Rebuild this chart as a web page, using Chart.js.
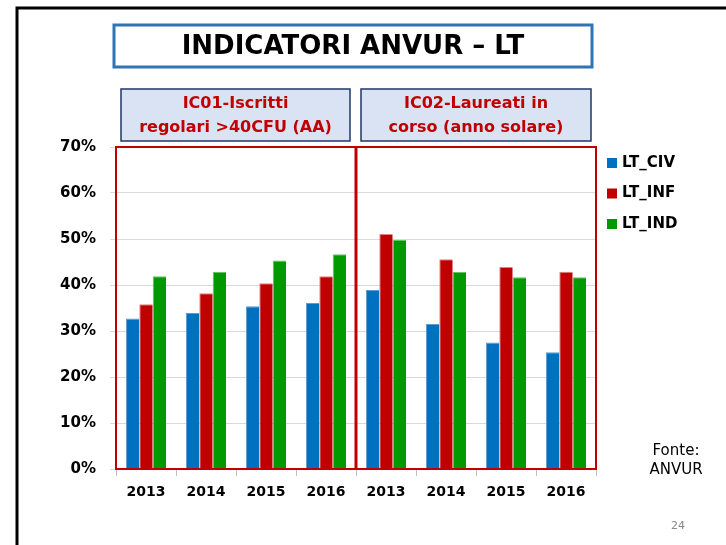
<!DOCTYPE html>
<html>
<head>
<meta charset="utf-8">
<script src="https://cdn.jsdelivr.net/npm/chart.js@4"></script>
<style>
  html, body { margin: 0; padding: 0; background: #fff; }
  #wrap { width: 726px; height: 545px; position: relative; }
</style>
</head>
<body>
<div id="wrap"><canvas id="anvur-chart" width="726" height="545"></canvas></div>
<script>
const years = ['2013', '2014', '2015', '2016', '2013', '2014', '2015', '2016'];
const seriesNames = ['LT_CIV', 'LT_INF', 'LT_IND'];
const ltCiv = [0.327, 0.339, 0.354, 0.361, 0.389, 0.315, 0.275, 0.254];
const ltInf = [0.358, 0.382, 0.404, 0.419, 0.511, 0.456, 0.439, 0.429];
const ltInd = [0.419, 0.428, 0.453, 0.467, 0.498, 0.428, 0.417, 0.417];
const yTicks = [0, 0.1, 0.2, 0.3, 0.4, 0.5, 0.6, 0.7];
const title = 'INDICATORI ANVUR – LT';
const panelTitles = [['IC01-Iscritti', 'regolari >40CFU (AA)'], ['IC02-Laureati in', 'corso (anno solare)']];
const colors = ['#0070c0', '#c00000', '#009900'];
const edgeColors = ['#5b9bd5', '#e08080', '#66c266'];

const font = '"DejaVu Sans", sans-serif';

const slidePlugin = {
    id: 'slide',
    beforeDraw(chart) {
        const c = chart.ctx;
        c.save();
        c.fillStyle = '#fff';
        c.fillRect(0, 0, chart.width, chart.height);
        // slide frame
        c.strokeStyle = '#000';
        c.lineWidth = 3;
        c.beginPath();
        c.moveTo(17, 560);
        c.lineTo(17, 8);
        c.lineTo(740, 8);
        c.stroke();

        // title box
        c.strokeStyle = '#2e75b6';
        c.lineWidth = 3;
        c.fillStyle = '#fff';
        c.fillRect(114, 25, 478, 42);
        c.strokeRect(114, 25, 478, 42);
        c.fillStyle = '#000';
        c.font = 'bold 26px ' + font;
        c.textAlign = 'center';
        c.textBaseline = 'middle';
        c.fillText(title, 353, 47);

        // panel headers
        const boxes = [[121, 89, 229, 52], [361, 89, 230, 52]];
        boxes.forEach((b, i) => {
            c.fillStyle = '#dae3f3';
            c.fillRect(b[0], b[1], b[2], b[3]);
            c.strokeStyle = '#1f3864';
            c.lineWidth = 1.5;
            c.strokeRect(b[0], b[1], b[2], b[3]);
            c.fillStyle = '#c00000';
            c.font = 'bold 16px ' + font;
            c.fillText(panelTitles[i][0], b[0] + b[2] / 2, 104);
            c.fillText(panelTitles[i][1], b[0] + b[2] / 2, 128);
        });

        // source note + page number
        c.fillStyle = '#000';
        c.font = '15px ' + font;
        c.fillText('Fonte:', 676, 451);
        c.fillText('ANVUR', 676, 470);
        c.fillStyle = '#888';
        c.font = '11px ' + font;
        c.fillText('24', 678, 526);
        c.restore();
    },
    afterDatasetsDraw(chart) {
        const c = chart.ctx;
        const area = chart.chartArea;
        const x = chart.scales.x;
        const mid = (x.getPixelForValue(3) + x.getPixelForValue(4)) / 2;
        c.save();
        c.strokeStyle = '#c00000';
        c.lineWidth = 2;
        c.strokeRect(area.left, area.top, area.right - area.left, area.bottom - area.top);
        c.lineWidth = 3;
        c.beginPath();
        c.moveTo(mid, area.top);
        c.lineTo(mid, area.bottom);
        c.stroke();

        // legend
        c.font = 'bold 15px ' + font;
        c.textAlign = 'left';
        c.textBaseline = 'middle';
        chart.data.datasets.forEach((ds, i) => {
            const y = 163 + i * 30.5;
            c.fillStyle = ds.backgroundColor;
            c.fillRect(607, y - 5, 10, 10);
            c.fillStyle = '#000';
            c.fillText(ds.label, 622, y);
        });
        c.restore();
    }
};

const ctx = document.getElementById('anvur-chart').getContext('2d');
const anvurChart = new Chart(ctx, {
    type: 'bar',
    data: {
        labels: years,
        datasets: seriesNames.map((name, i) => ({
            label: name,
            data: [ltCiv, ltInf, ltInd][i],
            backgroundColor: colors[i],
            borderColor: edgeColors[i],
            borderWidth: { top: 1, left: 1, right: 0, bottom: 0 },
            borderSkipped: 'bottom'
        }))
    },
    options: {
        responsive: false,
        animation: false,
        layout: { padding: { left: 0, right: 130, top: 147, bottom: 36 } },
        datasets: { bar: { categoryPercentage: 0.67, barPercentage: 1 } },
        plugins: { legend: { display: false }, tooltip: { enabled: false } },
        scales: {
            x: {
                offset: true,
                grid: { offset: true, drawOnChartArea: false, tickLength: 7, color: '#bfbfbf' },
                border: { color: '#bfbfbf' },
                ticks: { color: '#000', font: { family: font, size: 14, weight: 'bold' }, padding: 8 },
                afterFit(s) { s.height = 40; }
            },
            y: {
                min: 0,
                max: 0.7,
                afterBuildTicks(s) { s.ticks = yTicks.map(v => ({ value: v })); },
                grid: { color: '#d9d9d9', tickLength: 6 },
                border: { display: false },
                ticks: {
                    color: '#000',
                    font: { family: font, size: 15, weight: 'bold' },
                    padding: 14,
                    callback: v => Math.round(v * 100) + '%'
                },
                afterFit(s) { s.width = 116; }
            }
        }
    },
    plugins: [slidePlugin]
});
</script>
</body>
</html>
